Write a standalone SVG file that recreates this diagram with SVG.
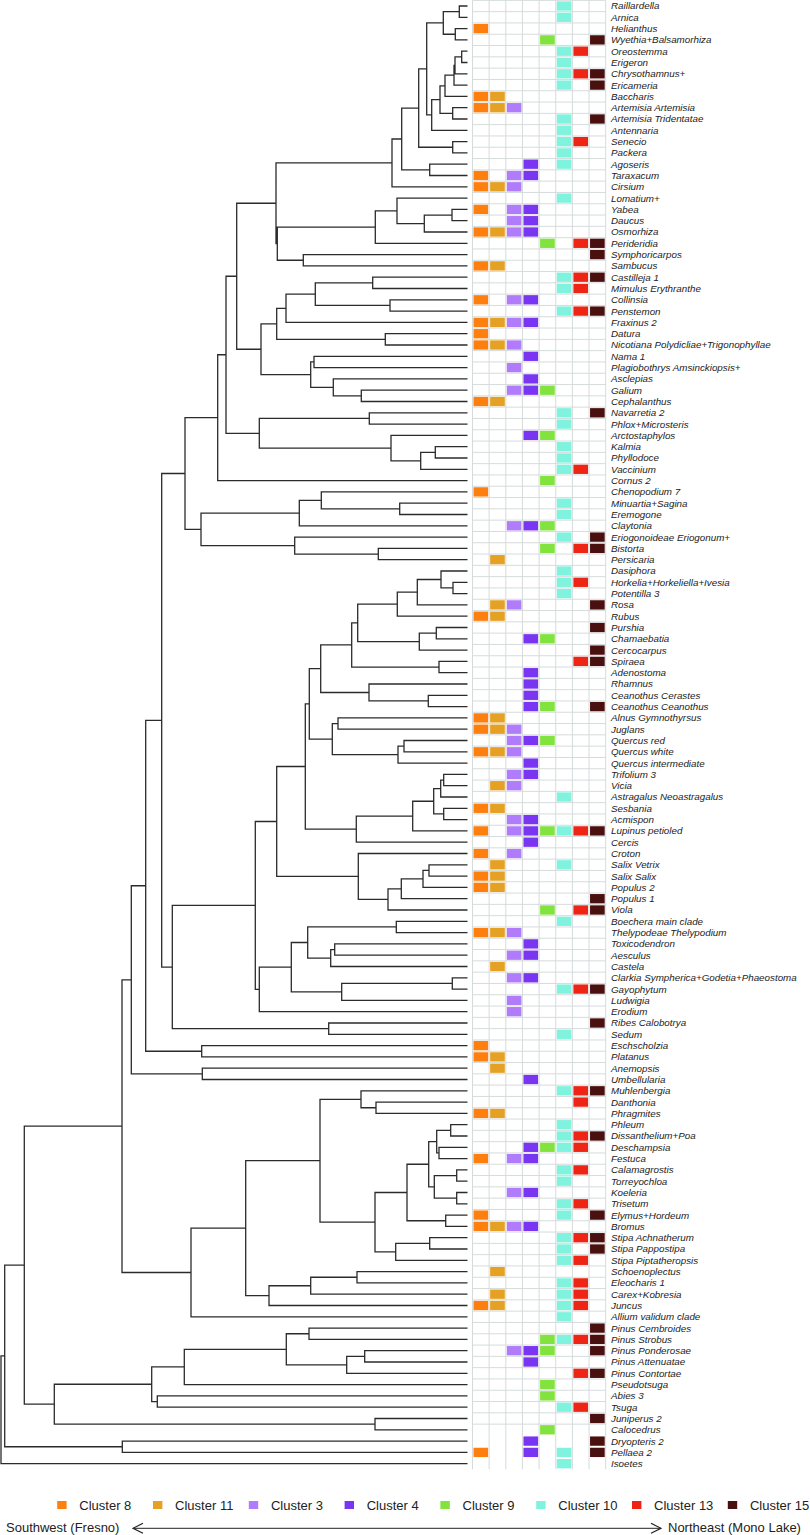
<svg xmlns="http://www.w3.org/2000/svg" xmlns:xlink="http://www.w3.org/1999/xlink" width="810" height="1535" viewBox="0 0 810 1535">
<style>
.lab{font-family:"Liberation Sans",Arial,sans-serif;font-style:italic;font-size:9.8px;fill:#222}
.leg{font-family:"Liberation Sans",Arial,sans-serif;font-size:13px;fill:#222}
.tree{fill:none;stroke:#2b2b2b;stroke-width:1.3}
.grid{fill:none;stroke:#d5dbdb;stroke-width:1}
</style>
<defs>
<rect id="k0" width="14.65" height="9.3" fill="#ff7f0e"/>
<rect id="k1" width="14.65" height="9.3" fill="#e5a124"/>
<rect id="k2" width="14.65" height="9.3" fill="#b07cfb"/>
<rect id="k3" width="14.65" height="9.3" fill="#7a35f2"/>
<rect id="k4" width="14.65" height="9.3" fill="#82e23e"/>
<rect id="k5" width="14.65" height="9.3" fill="#80f3de"/>
<rect id="k6" width="14.65" height="9.3" fill="#ee2414"/>
<rect id="k7" width="14.65" height="9.3" fill="#4a0f0f"/>
<marker id="ah" viewBox="0 0 12 12" refX="11" refY="6" markerWidth="12" markerHeight="12" markerUnits="userSpaceOnUse" orient="auto-start-reverse"><path d="M1 1L11 6L1 11" fill="none" stroke="#222" stroke-width="1.2"/></marker>
</defs>
<rect width="810" height="1535" fill="#fff"/>
<g id="grid">
<path class="grid" d="M472.5 0.35h133.2m-133.2 11.3h133.2m-133.2 11.3h133.2m-133.2 11.3h133.2m-133.2 11.3h133.2m-133.2 11.3h133.2m-133.2 11.3h133.2m-133.2 11.3h133.2m-133.2 11.3h133.2m-133.2 11.3h133.2m-133.2 11.3h133.2m-133.2 11.3h133.2m-133.2 11.3h133.2m-133.2 11.3h133.2m-133.2 11.3h133.2m-133.2 11.3h133.2m-133.2 11.3h133.2m-133.2 11.3h133.2m-133.2 11.3h133.2m-133.2 11.3h133.2m-133.2 11.3h133.2m-133.2 11.3h133.2m-133.2 11.3h133.2m-133.2 11.3h133.2m-133.2 11.3h133.2m-133.2 11.3h133.2m-133.2 11.3h133.2m-133.2 11.3h133.2m-133.2 11.3h133.2m-133.2 11.3h133.2m-133.2 11.3h133.2m-133.2 11.3h133.2m-133.2 11.3h133.2m-133.2 11.3h133.2m-133.2 11.3h133.2m-133.2 11.3h133.2m-133.2 11.3h133.2m-133.2 11.3h133.2m-133.2 11.3h133.2m-133.2 11.3h133.2m-133.2 11.3h133.2m-133.2 11.3h133.2m-133.2 11.3h133.2m-133.2 11.3h133.2m-133.2 11.3h133.2m-133.2 11.3h133.2m-133.2 11.3h133.2m-133.2 11.3h133.2m-133.2 11.3h133.2m-133.2 11.3h133.2m-133.2 11.3h133.2m-133.2 11.3h133.2m-133.2 11.3h133.2m-133.2 11.3h133.2m-133.2 11.3h133.2m-133.2 11.3h133.2m-133.2 11.3h133.2m-133.2 11.3h133.2m-133.2 11.3h133.2m-133.2 11.3h133.2m-133.2 11.3h133.2m-133.2 11.3h133.2m-133.2 11.3h133.2m-133.2 11.3h133.2m-133.2 11.3h133.2m-133.2 11.3h133.2m-133.2 11.3h133.2m-133.2 11.3h133.2m-133.2 11.3h133.2m-133.2 11.3h133.2m-133.2 11.3h133.2m-133.2 11.3h133.2m-133.2 11.3h133.2m-133.2 11.3h133.2m-133.2 11.3h133.2m-133.2 11.3h133.2m-133.2 11.3h133.2m-133.2 11.3h133.2m-133.2 11.3h133.2m-133.2 11.3h133.2m-133.2 11.3h133.2m-133.2 11.3h133.2m-133.2 11.3h133.2m-133.2 11.3h133.2m-133.2 11.3h133.2m-133.2 11.3h133.2m-133.2 11.3h133.2m-133.2 11.3h133.2m-133.2 11.3h133.2m-133.2 11.3h133.2m-133.2 11.3h133.2m-133.2 11.3h133.2m-133.2 11.3h133.2m-133.2 11.3h133.2m-133.2 11.3h133.2m-133.2 11.3h133.2m-133.2 11.3h133.2m-133.2 11.3h133.2m-133.2 11.3h133.2m-133.2 11.3h133.2m-133.2 11.3h133.2m-133.2 11.3h133.2m-133.2 11.3h133.2m-133.2 11.3h133.2m-133.2 11.3h133.2m-133.2 11.3h133.2m-133.2 11.3h133.2m-133.2 11.3h133.2m-133.2 11.3h133.2m-133.2 11.3h133.2m-133.2 11.3h133.2m-133.2 11.3h133.2m-133.2 11.3h133.2m-133.2 11.3h133.2m-133.2 11.3h133.2m-133.2 11.3h133.2m-133.2 11.3h133.2m-133.2 11.3h133.2m-133.2 11.3h133.2m-133.2 11.3h133.2m-133.2 11.3h133.2m-133.2 11.3h133.2m-133.2 11.3h133.2m-133.2 11.3h133.2m-133.2 11.3h133.2m-133.2 11.3h133.2m-133.2 11.3h133.2M472.5 0.35V1469.35M489.15 0.35V1469.35M505.8 0.35V1469.35M522.45 0.35V1469.35M539.1 0.35V1469.35M555.75 0.35V1469.35M572.4 0.35V1469.35M589.05 0.35V1469.35M605.7 0.35V1469.35"/>
</g>
<g id="connectors">
<path class="tree" d="M467.5 6H459.3V17.3H467.5M467.5 28.6H455.3V39.9H467.5M459.3 11.65H443.3V34.25H455.3M467.5 51.2H461.7V62.5H467.5M461.7 56.85H455V73.8H467.5M455 65.33H454V85.1H467.5M454 75.21H445V96.4H467.5M467.5 107.7H452.7V119H467.5M445 85.8H440V113.35H452.7M440 99.58H431.7V130.3H467.5M443.3 22.95H426.7V114.94H431.7M467.5 141.6H452.7V152.9H467.5M426.7 68.95H418.7V147.25H452.7M467.5 164.2H429.7V175.5H467.5M418.7 108.1H401.7V169.85H429.7M401.7 138.98H392V186.8H467.5M467.5 209.4H452V220.7H467.5M452 215.05H424.3V232H467.5M467.5 198.1H397V223.53H424.3M397 210.8H375.3V243.3H467.5M467.5 254.6H303.3V265.9H467.5M375.3 227.05H277.3V260.25H303.3M392 162.89H276V243.65H277.3M467.5 277.2H372.7V288.5H467.5M467.5 299.8H390V311.1H467.5M372.7 282.85H315.3V305.45H390M315.3 294.15H286V322.4H467.5M467.5 333.7H385.3V345H467.5M286 308.28H276.7V339.35H385.3M467.5 356.3H314V367.6H467.5M467.5 390.2H361.3V401.5H467.5M467.5 378.9H333.3V395.85H361.3M314 361.95H310.7V387.38H333.3M276.7 323.8H261V374.66H310.7M276 203.27H236.7V349.23H261M467.5 412.8H369.3V424.1H467.5M467.5 446.7H435.3V458H467.5M435.3 452.35H420.7V469.3H467.5M467.5 435.4H391V460.83H420.7M369.3 418.45H259.3V448.1H391M236.7 276.25H226V433.28H259.3M226 354.76H217.7V480.6H467.5M467.5 503.2H399.7V514.5H467.5M467.5 491.9H321.3V508.85H399.7M321.3 500.38H299.3V525.8H467.5M467.5 548.4H378.3V559.7H467.5M467.5 537.1H294.7V554.05H378.3M299.3 513.09H201V545.58H294.7M217.7 417.68H185V529.33H201
M467.5 582.3H453V593.6H467.5M467.5 571H441V587.95H453M441 579.48H417.3V604.9H467.5M417.3 592.19H397.3V616.2H467.5M467.5 627.5H436.3V638.8H467.5M436.3 633.15H419.3V650.1H467.5M397.3 604.19H357.7V641.6H419.3M467.5 661.4H439V672.7H467.5M357.7 622.9H351.7V667.05H439M467.5 695.3H428.3V706.6H467.5M467.5 684H369V700.95H428.3M351.7 644.97H320.7V692.48H369M467.5 717.9H338V729.2H467.5M467.5 740.5H404V751.8H467.5M404 746.15H398V763.1H467.5M338 723.55H332.3V754.63H398M320.7 668.72H309.3V739.09H332.3M467.5 774.4H443.7V785.7H467.5M443.7 780.05H440.7V797H467.5M467.5 808.3H443.7V819.6H467.5M440.7 788.53H433.7V813.95H443.7M433.7 801.24H412.7V830.9H467.5M412.7 816.07H356.3V842.2H467.5M309.3 703.9H305.3V829.13H356.3M467.5 864.8H429V876.1H467.5M429 870.45H423V887.4H467.5M423 878.93H401.3V898.7H467.5M401.3 888.8H388V910H467.5M467.5 853.5H358.3V899.4H388M305.3 766.52H276.7V876.45H358.3M467.5 921.3H396.3V932.6H467.5M467.5 943.9H334.7V955.2H467.5M334.7 949.55H330.7V966.5H467.5M396.3 926.95H307.7V958.03H330.7M467.5 977.8H452.3V989.1H467.5M452.3 983.45H341.7V1000.4H467.5M307.7 942.49H291.3V991.93H341.7M291.3 967.21H259.3V1011.7H467.5M276.7 821.48H255.3V989.45H259.3M467.5 1023H328.7V1034.3H467.5M255.3 905.47H172.3V1028.65H328.7M185 473.5H161.7V967.06H172.3M467.5 1045.6H201.7V1056.9H467.5M161.7 720.28H145.7V1051.25H201.7M467.5 1068.2H202.3V1079.5H467.5M145.7 885.77H131.3V1073.85H202.3
M467.5 1102.1H376V1113.4H467.5M467.5 1090.8H361V1107.75H376M467.5 1124.7H450.7V1136H467.5M467.5 1147.3H439V1158.6H467.5M450.7 1130.35H436.7V1152.95H439M467.5 1169.9H456.7V1181.2H467.5M467.5 1192.5H456.7V1203.8H467.5M456.7 1175.55H434.3V1198.15H456.7M436.7 1141.65H428.7V1186.85H434.3M467.5 1215.1H445.7V1226.4H467.5M428.7 1164.25H407V1220.75H445.7M467.5 1237.7H429.7V1249H467.5M429.7 1243.35H395.7V1260.3H467.5M407 1192.5H375V1251.83H395.7M361 1099.28H320V1222.16H375M467.5 1271.6H357V1282.9H467.5M357 1277.25H310.7V1294.2H467.5M310.7 1285.73H269V1305.5H467.5M320 1160.72H245.7V1295.61H269M245.7 1228.17H191V1316.8H467.5M131.3 979.81H122V1272.48H191
M467.5 1328.1H309V1339.4H467.5M467.5 1350.7H364.7V1362H467.5M364.7 1356.35H346.7V1373.3H467.5M309 1333.75H286.3V1364.83H346.7M286.3 1349.29H184.3V1384.6H467.5M467.5 1395.9H157.3V1407.2H467.5M184.3 1366.94H151.7V1401.55H157.3M467.5 1418.5H375V1429.8H467.5M151.7 1384.25H54.3V1424.15H375M122 1126.15H24.3V1404.2H54.3M467.5 1441.1H122.3V1452.4H467.5M24.3 1265.18H4.7V1446.75H122.3M4.7 1355.96H1V1463.7H467.5"/>
</g>
<g id="rows">
<g id="r0"><use href="#k5" x="556.75" y="1.35"/><text class="lab" x="611" y="9.4">Raillardella</text></g>
<g id="r1"><use href="#k5" x="556.75" y="12.65"/><text class="lab" x="611" y="20.7">Arnica</text></g>
<g id="r2"><use href="#k0" x="473.5" y="23.95"/><text class="lab" x="611" y="32">Helianthus</text></g>
<g id="r3"><use href="#k4" x="540.1" y="35.25"/><use href="#k7" x="590.05" y="35.25"/><text class="lab" x="611" y="43.3">Wyethia+Balsamorhiza</text></g>
<g id="r4"><use href="#k5" x="556.75" y="46.55"/><use href="#k6" x="573.4" y="46.55"/><text class="lab" x="611" y="54.6">Oreostemma</text></g>
<g id="r5"><use href="#k5" x="556.75" y="57.85"/><text class="lab" x="611" y="65.9">Erigeron</text></g>
<g id="r6"><use href="#k5" x="556.75" y="69.15"/><use href="#k6" x="573.4" y="69.15"/><use href="#k7" x="590.05" y="69.15"/><text class="lab" x="611" y="77.2">Chrysothamnus+</text></g>
<g id="r7"><use href="#k5" x="556.75" y="80.45"/><use href="#k7" x="590.05" y="80.45"/><text class="lab" x="611" y="88.5">Ericameria</text></g>
<g id="r8"><use href="#k0" x="473.5" y="91.75"/><use href="#k1" x="490.15" y="91.75"/><text class="lab" x="611" y="99.8">Baccharis</text></g>
<g id="r9"><use href="#k0" x="473.5" y="103.05"/><use href="#k1" x="490.15" y="103.05"/><use href="#k2" x="506.8" y="103.05"/><text class="lab" x="611" y="111.1">Artemisia Artemisia</text></g>
<g id="r10"><use href="#k5" x="556.75" y="114.35"/><use href="#k7" x="590.05" y="114.35"/><text class="lab" x="611" y="122.4">Artemisia Tridentatae</text></g>
<g id="r11"><use href="#k5" x="556.75" y="125.65"/><text class="lab" x="611" y="133.7">Antennaria</text></g>
<g id="r12"><use href="#k5" x="556.75" y="136.95"/><use href="#k6" x="573.4" y="136.95"/><text class="lab" x="611" y="145">Senecio</text></g>
<g id="r13"><use href="#k5" x="556.75" y="148.25"/><text class="lab" x="611" y="156.3">Packera</text></g>
<g id="r14"><use href="#k3" x="523.45" y="159.55"/><use href="#k5" x="556.75" y="159.55"/><text class="lab" x="611" y="167.6">Agoseris</text></g>
<g id="r15"><use href="#k0" x="473.5" y="170.85"/><use href="#k2" x="506.8" y="170.85"/><use href="#k3" x="523.45" y="170.85"/><text class="lab" x="611" y="178.9">Taraxacum</text></g>
<g id="r16"><use href="#k0" x="473.5" y="182.15"/><use href="#k1" x="490.15" y="182.15"/><use href="#k2" x="506.8" y="182.15"/><text class="lab" x="611" y="190.2">Cirsium</text></g>
<g id="r17"><use href="#k5" x="556.75" y="193.45"/><text class="lab" x="611" y="201.5">Lomatium+</text></g>
<g id="r18"><use href="#k0" x="473.5" y="204.75"/><use href="#k2" x="506.8" y="204.75"/><use href="#k3" x="523.45" y="204.75"/><text class="lab" x="611" y="212.8">Yabea</text></g>
<g id="r19"><use href="#k2" x="506.8" y="216.05"/><use href="#k3" x="523.45" y="216.05"/><text class="lab" x="611" y="224.1">Daucus</text></g>
<g id="r20"><use href="#k0" x="473.5" y="227.35"/><use href="#k1" x="490.15" y="227.35"/><use href="#k2" x="506.8" y="227.35"/><use href="#k3" x="523.45" y="227.35"/><text class="lab" x="611" y="235.4">Osmorhiza</text></g>
<g id="r21"><use href="#k4" x="540.1" y="238.65"/><use href="#k6" x="573.4" y="238.65"/><use href="#k7" x="590.05" y="238.65"/><text class="lab" x="611" y="246.7">Perideridia</text></g>
<g id="r22"><use href="#k7" x="590.05" y="249.95"/><text class="lab" x="611" y="258">Symphoricarpos</text></g>
<g id="r23"><use href="#k0" x="473.5" y="261.25"/><use href="#k1" x="490.15" y="261.25"/><text class="lab" x="611" y="269.3">Sambucus</text></g>
<g id="r24"><use href="#k5" x="556.75" y="272.55"/><use href="#k6" x="573.4" y="272.55"/><use href="#k7" x="590.05" y="272.55"/><text class="lab" x="611" y="280.6">Castilleja 1</text></g>
<g id="r25"><use href="#k5" x="556.75" y="283.85"/><use href="#k6" x="573.4" y="283.85"/><text class="lab" x="611" y="291.9">Mimulus Erythranthe</text></g>
<g id="r26"><use href="#k0" x="473.5" y="295.15"/><use href="#k2" x="506.8" y="295.15"/><use href="#k3" x="523.45" y="295.15"/><text class="lab" x="611" y="303.2">Collinsia</text></g>
<g id="r27"><use href="#k5" x="556.75" y="306.45"/><use href="#k6" x="573.4" y="306.45"/><use href="#k7" x="590.05" y="306.45"/><text class="lab" x="611" y="314.5">Penstemon</text></g>
<g id="r28"><use href="#k0" x="473.5" y="317.75"/><use href="#k1" x="490.15" y="317.75"/><use href="#k2" x="506.8" y="317.75"/><use href="#k3" x="523.45" y="317.75"/><text class="lab" x="611" y="325.8">Fraxinus 2</text></g>
<g id="r29"><use href="#k0" x="473.5" y="329.05"/><text class="lab" x="611" y="337.1">Datura</text></g>
<g id="r30"><use href="#k0" x="473.5" y="340.35"/><use href="#k1" x="490.15" y="340.35"/><use href="#k2" x="506.8" y="340.35"/><text class="lab" x="611" y="348.4">Nicotiana Polydicliae+Trigonophyllae</text></g>
<g id="r31"><use href="#k3" x="523.45" y="351.65"/><text class="lab" x="611" y="359.7">Nama 1</text></g>
<g id="r32"><use href="#k2" x="506.8" y="362.95"/><text class="lab" x="611" y="371">Plagiobothrys Amsinckiopsis+</text></g>
<g id="r33"><use href="#k3" x="523.45" y="374.25"/><text class="lab" x="611" y="382.3">Asclepias</text></g>
<g id="r34"><use href="#k2" x="506.8" y="385.55"/><use href="#k3" x="523.45" y="385.55"/><use href="#k4" x="540.1" y="385.55"/><text class="lab" x="611" y="393.6">Galium</text></g>
<g id="r35"><use href="#k0" x="473.5" y="396.85"/><use href="#k1" x="490.15" y="396.85"/><text class="lab" x="611" y="404.9">Cephalanthus</text></g>
<g id="r36"><use href="#k5" x="556.75" y="408.15"/><use href="#k7" x="590.05" y="408.15"/><text class="lab" x="611" y="416.2">Navarretia 2</text></g>
<g id="r37"><use href="#k5" x="556.75" y="419.45"/><text class="lab" x="611" y="427.5">Phlox+Microsteris</text></g>
<g id="r38"><use href="#k3" x="523.45" y="430.75"/><use href="#k4" x="540.1" y="430.75"/><text class="lab" x="611" y="438.8">Arctostaphylos</text></g>
<g id="r39"><use href="#k5" x="556.75" y="442.05"/><text class="lab" x="611" y="450.1">Kalmia</text></g>
<g id="r40"><use href="#k5" x="556.75" y="453.35"/><text class="lab" x="611" y="461.4">Phyllodoce</text></g>
<g id="r41"><use href="#k5" x="556.75" y="464.65"/><use href="#k6" x="573.4" y="464.65"/><text class="lab" x="611" y="472.7">Vaccinium</text></g>
<g id="r42"><use href="#k4" x="540.1" y="475.95"/><text class="lab" x="611" y="484">Cornus 2</text></g>
<g id="r43"><use href="#k0" x="473.5" y="487.25"/><text class="lab" x="611" y="495.3">Chenopodium 7</text></g>
<g id="r44"><use href="#k5" x="556.75" y="498.55"/><text class="lab" x="611" y="506.6">Minuartia+Sagina</text></g>
<g id="r45"><use href="#k5" x="556.75" y="509.85"/><text class="lab" x="611" y="517.9">Eremogone</text></g>
<g id="r46"><use href="#k2" x="506.8" y="521.15"/><use href="#k3" x="523.45" y="521.15"/><use href="#k4" x="540.1" y="521.15"/><text class="lab" x="611" y="529.2">Claytonia</text></g>
<g id="r47"><use href="#k5" x="556.75" y="532.45"/><use href="#k7" x="590.05" y="532.45"/><text class="lab" x="611" y="540.5">Eriogonoideae Eriogonum+</text></g>
<g id="r48"><use href="#k4" x="540.1" y="543.75"/><use href="#k6" x="573.4" y="543.75"/><use href="#k7" x="590.05" y="543.75"/><text class="lab" x="611" y="551.8">Bistorta</text></g>
<g id="r49"><use href="#k1" x="490.15" y="555.05"/><text class="lab" x="611" y="563.1">Persicaria</text></g>
<g id="r50"><use href="#k5" x="556.75" y="566.35"/><text class="lab" x="611" y="574.4">Dasiphora</text></g>
<g id="r51"><use href="#k5" x="556.75" y="577.65"/><use href="#k6" x="573.4" y="577.65"/><text class="lab" x="611" y="585.7">Horkelia+Horkeliella+Ivesia</text></g>
<g id="r52"><use href="#k5" x="556.75" y="588.95"/><text class="lab" x="611" y="597">Potentilla 3</text></g>
<g id="r53"><use href="#k1" x="490.15" y="600.25"/><use href="#k2" x="506.8" y="600.25"/><use href="#k7" x="590.05" y="600.25"/><text class="lab" x="611" y="608.3">Rosa</text></g>
<g id="r54"><use href="#k0" x="473.5" y="611.55"/><use href="#k1" x="490.15" y="611.55"/><text class="lab" x="611" y="619.6">Rubus</text></g>
<g id="r55"><use href="#k7" x="590.05" y="622.85"/><text class="lab" x="611" y="630.9">Purshia</text></g>
<g id="r56"><use href="#k3" x="523.45" y="634.15"/><use href="#k4" x="540.1" y="634.15"/><text class="lab" x="611" y="642.2">Chamaebatia</text></g>
<g id="r57"><use href="#k7" x="590.05" y="645.45"/><text class="lab" x="611" y="653.5">Cercocarpus</text></g>
<g id="r58"><use href="#k6" x="573.4" y="656.75"/><use href="#k7" x="590.05" y="656.75"/><text class="lab" x="611" y="664.8">Spiraea</text></g>
<g id="r59"><use href="#k3" x="523.45" y="668.05"/><text class="lab" x="611" y="676.1">Adenostoma</text></g>
<g id="r60"><use href="#k3" x="523.45" y="679.35"/><text class="lab" x="611" y="687.4">Rhamnus</text></g>
<g id="r61"><use href="#k3" x="523.45" y="690.65"/><text class="lab" x="611" y="698.7">Ceanothus Cerastes</text></g>
<g id="r62"><use href="#k3" x="523.45" y="701.95"/><use href="#k4" x="540.1" y="701.95"/><use href="#k7" x="590.05" y="701.95"/><text class="lab" x="611" y="710">Ceanothus Ceanothus</text></g>
<g id="r63"><use href="#k0" x="473.5" y="713.25"/><use href="#k1" x="490.15" y="713.25"/><text class="lab" x="611" y="721.3">Alnus Gymnothyrsus</text></g>
<g id="r64"><use href="#k0" x="473.5" y="724.55"/><use href="#k1" x="490.15" y="724.55"/><use href="#k2" x="506.8" y="724.55"/><text class="lab" x="611" y="732.6">Juglans</text></g>
<g id="r65"><use href="#k2" x="506.8" y="735.85"/><use href="#k3" x="523.45" y="735.85"/><use href="#k4" x="540.1" y="735.85"/><text class="lab" x="611" y="743.9">Quercus red</text></g>
<g id="r66"><use href="#k0" x="473.5" y="747.15"/><use href="#k1" x="490.15" y="747.15"/><use href="#k2" x="506.8" y="747.15"/><text class="lab" x="611" y="755.2">Quercus white</text></g>
<g id="r67"><use href="#k3" x="523.45" y="758.45"/><text class="lab" x="611" y="766.5">Quercus intermediate</text></g>
<g id="r68"><use href="#k2" x="506.8" y="769.75"/><use href="#k3" x="523.45" y="769.75"/><text class="lab" x="611" y="777.8">Trifolium 3</text></g>
<g id="r69"><use href="#k1" x="490.15" y="781.05"/><use href="#k2" x="506.8" y="781.05"/><text class="lab" x="611" y="789.1">Vicia</text></g>
<g id="r70"><use href="#k5" x="556.75" y="792.35"/><text class="lab" x="611" y="800.4">Astragalus Neoastragalus</text></g>
<g id="r71"><use href="#k0" x="473.5" y="803.65"/><use href="#k1" x="490.15" y="803.65"/><text class="lab" x="611" y="811.7">Sesbania</text></g>
<g id="r72"><use href="#k2" x="506.8" y="814.95"/><use href="#k3" x="523.45" y="814.95"/><text class="lab" x="611" y="823">Acmispon</text></g>
<g id="r73"><use href="#k0" x="473.5" y="826.25"/><use href="#k2" x="506.8" y="826.25"/><use href="#k3" x="523.45" y="826.25"/><use href="#k4" x="540.1" y="826.25"/><use href="#k5" x="556.75" y="826.25"/><use href="#k6" x="573.4" y="826.25"/><use href="#k7" x="590.05" y="826.25"/><text class="lab" x="611" y="834.3">Lupinus petioled</text></g>
<g id="r74"><use href="#k3" x="523.45" y="837.55"/><text class="lab" x="611" y="845.6">Cercis</text></g>
<g id="r75"><use href="#k0" x="473.5" y="848.85"/><use href="#k2" x="506.8" y="848.85"/><text class="lab" x="611" y="856.9">Croton</text></g>
<g id="r76"><use href="#k1" x="490.15" y="860.15"/><use href="#k5" x="556.75" y="860.15"/><text class="lab" x="611" y="868.2">Salix Vetrix</text></g>
<g id="r77"><use href="#k0" x="473.5" y="871.45"/><use href="#k1" x="490.15" y="871.45"/><text class="lab" x="611" y="879.5">Salix Salix</text></g>
<g id="r78"><use href="#k0" x="473.5" y="882.75"/><use href="#k1" x="490.15" y="882.75"/><text class="lab" x="611" y="890.8">Populus 2</text></g>
<g id="r79"><use href="#k7" x="590.05" y="894.05"/><text class="lab" x="611" y="902.1">Populus 1</text></g>
<g id="r80"><use href="#k4" x="540.1" y="905.35"/><use href="#k6" x="573.4" y="905.35"/><use href="#k7" x="590.05" y="905.35"/><text class="lab" x="611" y="913.4">Viola</text></g>
<g id="r81"><use href="#k5" x="556.75" y="916.65"/><text class="lab" x="611" y="924.7">Boechera main clade</text></g>
<g id="r82"><use href="#k0" x="473.5" y="927.95"/><use href="#k1" x="490.15" y="927.95"/><use href="#k2" x="506.8" y="927.95"/><text class="lab" x="611" y="936">Thelypodeae Thelypodium</text></g>
<g id="r83"><use href="#k3" x="523.45" y="939.25"/><text class="lab" x="611" y="947.3">Toxicodendron</text></g>
<g id="r84"><use href="#k2" x="506.8" y="950.55"/><use href="#k3" x="523.45" y="950.55"/><text class="lab" x="611" y="958.6">Aesculus</text></g>
<g id="r85"><use href="#k1" x="490.15" y="961.85"/><text class="lab" x="611" y="969.9">Castela</text></g>
<g id="r86"><use href="#k2" x="506.8" y="973.15"/><use href="#k3" x="523.45" y="973.15"/><text class="lab" x="611" y="981.2">Clarkia Sympherica+Godetia+Phaeostoma</text></g>
<g id="r87"><use href="#k5" x="556.75" y="984.45"/><use href="#k6" x="573.4" y="984.45"/><use href="#k7" x="590.05" y="984.45"/><text class="lab" x="611" y="992.5">Gayophytum</text></g>
<g id="r88"><use href="#k2" x="506.8" y="995.75"/><text class="lab" x="611" y="1003.8">Ludwigia</text></g>
<g id="r89"><use href="#k2" x="506.8" y="1007.05"/><text class="lab" x="611" y="1015.1">Erodium</text></g>
<g id="r90"><use href="#k7" x="590.05" y="1018.35"/><text class="lab" x="611" y="1026.4">Ribes Calobotrya</text></g>
<g id="r91"><use href="#k5" x="556.75" y="1029.65"/><text class="lab" x="611" y="1037.7">Sedum</text></g>
<g id="r92"><use href="#k0" x="473.5" y="1040.95"/><text class="lab" x="611" y="1049">Eschscholzia</text></g>
<g id="r93"><use href="#k0" x="473.5" y="1052.25"/><use href="#k1" x="490.15" y="1052.25"/><text class="lab" x="611" y="1060.3">Platanus</text></g>
<g id="r94"><use href="#k1" x="490.15" y="1063.55"/><text class="lab" x="611" y="1071.6">Anemopsis</text></g>
<g id="r95"><use href="#k3" x="523.45" y="1074.85"/><text class="lab" x="611" y="1082.9">Umbellularia</text></g>
<g id="r96"><use href="#k5" x="556.75" y="1086.15"/><use href="#k6" x="573.4" y="1086.15"/><use href="#k7" x="590.05" y="1086.15"/><text class="lab" x="611" y="1094.2">Muhlenbergia</text></g>
<g id="r97"><use href="#k6" x="573.4" y="1097.45"/><text class="lab" x="611" y="1105.5">Danthonia</text></g>
<g id="r98"><use href="#k0" x="473.5" y="1108.75"/><use href="#k1" x="490.15" y="1108.75"/><text class="lab" x="611" y="1116.8">Phragmites</text></g>
<g id="r99"><use href="#k5" x="556.75" y="1120.05"/><text class="lab" x="611" y="1128.1">Phleum</text></g>
<g id="r100"><use href="#k5" x="556.75" y="1131.35"/><use href="#k6" x="573.4" y="1131.35"/><use href="#k7" x="590.05" y="1131.35"/><text class="lab" x="611" y="1139.4">Dissanthelium+Poa</text></g>
<g id="r101"><use href="#k3" x="523.45" y="1142.65"/><use href="#k4" x="540.1" y="1142.65"/><use href="#k5" x="556.75" y="1142.65"/><use href="#k6" x="573.4" y="1142.65"/><text class="lab" x="611" y="1150.7">Deschampsia</text></g>
<g id="r102"><use href="#k0" x="473.5" y="1153.95"/><use href="#k2" x="506.8" y="1153.95"/><use href="#k3" x="523.45" y="1153.95"/><text class="lab" x="611" y="1162">Festuca</text></g>
<g id="r103"><use href="#k5" x="556.75" y="1165.25"/><use href="#k6" x="573.4" y="1165.25"/><text class="lab" x="611" y="1173.3">Calamagrostis</text></g>
<g id="r104"><use href="#k5" x="556.75" y="1176.55"/><text class="lab" x="611" y="1184.6">Torreyochloa</text></g>
<g id="r105"><use href="#k2" x="506.8" y="1187.85"/><use href="#k3" x="523.45" y="1187.85"/><text class="lab" x="611" y="1195.9">Koeleria</text></g>
<g id="r106"><use href="#k5" x="556.75" y="1199.15"/><use href="#k6" x="573.4" y="1199.15"/><text class="lab" x="611" y="1207.2">Trisetum</text></g>
<g id="r107"><use href="#k0" x="473.5" y="1210.45"/><use href="#k5" x="556.75" y="1210.45"/><use href="#k7" x="590.05" y="1210.45"/><text class="lab" x="611" y="1218.5">Elymus+Hordeum</text></g>
<g id="r108"><use href="#k0" x="473.5" y="1221.75"/><use href="#k1" x="490.15" y="1221.75"/><use href="#k2" x="506.8" y="1221.75"/><use href="#k3" x="523.45" y="1221.75"/><text class="lab" x="611" y="1229.8">Bromus</text></g>
<g id="r109"><use href="#k5" x="556.75" y="1233.05"/><use href="#k6" x="573.4" y="1233.05"/><use href="#k7" x="590.05" y="1233.05"/><text class="lab" x="611" y="1241.1">Stipa Achnatherum</text></g>
<g id="r110"><use href="#k5" x="556.75" y="1244.35"/><use href="#k7" x="590.05" y="1244.35"/><text class="lab" x="611" y="1252.4">Stipa Pappostipa</text></g>
<g id="r111"><use href="#k5" x="556.75" y="1255.65"/><use href="#k6" x="573.4" y="1255.65"/><text class="lab" x="611" y="1263.7">Stipa Piptatheropsis</text></g>
<g id="r112"><use href="#k1" x="490.15" y="1266.95"/><text class="lab" x="611" y="1275">Schoenoplectus</text></g>
<g id="r113"><use href="#k5" x="556.75" y="1278.25"/><use href="#k6" x="573.4" y="1278.25"/><text class="lab" x="611" y="1286.3">Eleocharis 1</text></g>
<g id="r114"><use href="#k1" x="490.15" y="1289.55"/><use href="#k5" x="556.75" y="1289.55"/><use href="#k6" x="573.4" y="1289.55"/><text class="lab" x="611" y="1297.6">Carex+Kobresia</text></g>
<g id="r115"><use href="#k0" x="473.5" y="1300.85"/><use href="#k1" x="490.15" y="1300.85"/><use href="#k5" x="556.75" y="1300.85"/><use href="#k6" x="573.4" y="1300.85"/><text class="lab" x="611" y="1308.9">Juncus</text></g>
<g id="r116"><use href="#k5" x="556.75" y="1312.15"/><text class="lab" x="611" y="1320.2">Allium validum clade</text></g>
<g id="r117"><use href="#k7" x="590.05" y="1323.45"/><text class="lab" x="611" y="1331.5">Pinus Cembroides</text></g>
<g id="r118"><use href="#k4" x="540.1" y="1334.75"/><use href="#k5" x="556.75" y="1334.75"/><use href="#k6" x="573.4" y="1334.75"/><use href="#k7" x="590.05" y="1334.75"/><text class="lab" x="611" y="1342.8">Pinus Strobus</text></g>
<g id="r119"><use href="#k2" x="506.8" y="1346.05"/><use href="#k3" x="523.45" y="1346.05"/><use href="#k4" x="540.1" y="1346.05"/><use href="#k7" x="590.05" y="1346.05"/><text class="lab" x="611" y="1354.1">Pinus Ponderosae</text></g>
<g id="r120"><use href="#k3" x="523.45" y="1357.35"/><text class="lab" x="611" y="1365.4">Pinus Attenuatae</text></g>
<g id="r121"><use href="#k6" x="573.4" y="1368.65"/><use href="#k7" x="590.05" y="1368.65"/><text class="lab" x="611" y="1376.7">Pinus Contortae</text></g>
<g id="r122"><use href="#k4" x="540.1" y="1379.95"/><text class="lab" x="611" y="1388">Pseudotsuga</text></g>
<g id="r123"><use href="#k4" x="540.1" y="1391.25"/><text class="lab" x="611" y="1399.3">Abies 3</text></g>
<g id="r124"><use href="#k5" x="556.75" y="1402.55"/><use href="#k6" x="573.4" y="1402.55"/><text class="lab" x="611" y="1410.6">Tsuga</text></g>
<g id="r125"><use href="#k7" x="590.05" y="1413.85"/><text class="lab" x="611" y="1421.9">Juniperus 2</text></g>
<g id="r126"><use href="#k4" x="540.1" y="1425.15"/><text class="lab" x="611" y="1433.2">Calocedrus</text></g>
<g id="r127"><use href="#k3" x="523.45" y="1436.45"/><use href="#k7" x="590.05" y="1436.45"/><text class="lab" x="611" y="1444.5">Dryopteris 2</text></g>
<g id="r128"><use href="#k0" x="473.5" y="1447.75"/><use href="#k3" x="523.45" y="1447.75"/><use href="#k5" x="556.75" y="1447.75"/><use href="#k7" x="590.05" y="1447.75"/><text class="lab" x="611" y="1455.8">Pellaea 2</text></g>
<g id="r129"><use href="#k5" x="556.75" y="1459.05"/><text class="lab" x="611" y="1467.1">Isoetes</text></g>
</g>
<g id="legend">
<rect x="57.2" y="1501" width="9.4" height="8" fill="#ff7f0e"/><text class="leg" x="79.3" y="1509.5">Cluster 8</text>
<rect x="153" y="1501" width="9.4" height="8" fill="#e5a124"/><text class="leg" x="175.1" y="1509.5">Cluster 11</text>
<rect x="248.8" y="1501" width="9.4" height="8" fill="#b07cfb"/><text class="leg" x="270.9" y="1509.5">Cluster 3</text>
<rect x="344.6" y="1501" width="9.4" height="8" fill="#7a35f2"/><text class="leg" x="366.7" y="1509.5">Cluster 4</text>
<rect x="440.4" y="1501" width="9.4" height="8" fill="#82e23e"/><text class="leg" x="462.5" y="1509.5">Cluster 9</text>
<rect x="536.2" y="1501" width="9.4" height="8" fill="#80f3de"/><text class="leg" x="558.3" y="1509.5">Cluster 10</text>
<rect x="632" y="1501" width="9.4" height="8" fill="#ee2414"/><text class="leg" x="654.1" y="1509.5">Cluster 13</text>
<rect x="727.8" y="1501" width="9.4" height="8" fill="#4a0f0f"/><text class="leg" x="749.9" y="1509.5">Cluster 15</text>
</g>
<g id="axis">
<text class="leg" x="6" y="1532">Southwest (Fresno)</text>
<path d="M133 1528.3H661" fill="none" stroke="#222" stroke-width="1" marker-start="url(#ah)" marker-end="url(#ah)"/>
<text class="leg" x="668" y="1532">Northeast (Mono Lake)</text>
</g>
</svg>
